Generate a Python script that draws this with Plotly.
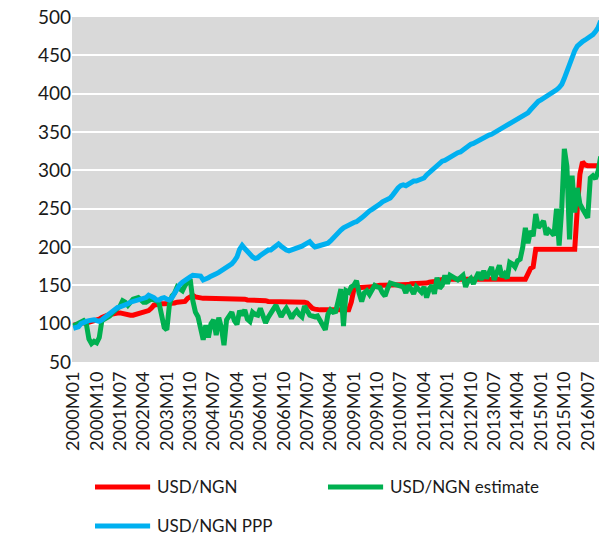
import plotly.graph_objects as go

# Monthly categories 2000M01 .. 2016M12
months = [f"{y}M{m:02d}" for y in range(2000, 2017) for m in range(1, 13)]

usd_ngn = [
    98, 99, 100, 100, 101, 101, 102, 102, 103, 104, 106, 108,            # 2000
    110, 111, 112, 113, 113, 114, 114, 113, 112, 111, 111, 111,          # 2001
    112, 113, 114, 115, 116, 117, 120, 124, 125, 126, 126, 126,          # 2002
    126, 127, 127, 127, 128, 128, 128, 129, 133, 136, 137, 135,          # 2003
    134, 134, 133, 133, 133, 133, 133, 133, 133, 133, 133, 133,          # 2004
    133, 133, 133, 133, 133, 132, 132, 131, 131, 130, 130, 130,          # 2005
    130, 130, 130, 129, 129, 129, 129, 129, 129, 129, 129, 129,          # 2006
    129, 129, 128, 128, 128, 128, 127, 123, 120, 119, 118, 118,          # 2007
    118, 118, 118, 118, 118, 117, 117, 117, 117, 117, 118, 128,          # 2008
    145, 147, 147, 147, 148, 148, 148, 148, 149, 150, 150, 150,          # 2009
    150, 150, 150, 150, 150, 150, 151, 151, 151, 151, 152, 152,          # 2010
    152, 153, 153, 153, 153, 154, 154, 155, 156, 157, 158, 158,          # 2011
    159, 158, 158, 158, 158, 158, 158, 158, 158, 158, 158, 158,          # 2012
    157, 157, 157, 157, 157, 157, 157, 157, 157, 157, 157, 157,          # 2013
    157, 157, 157, 157, 157, 157, 158, 165, 172, 174, 197, 197,          # 2014
    197, 197, 197, 197, 197, 197, 197, 197, 197, 197, 197, 197,          # 2015
    197, 197, 250, 295, 311, 307, 306, 306, 306, 306, 306, 306,          # 2016
]

usd_ngn_estimate = [
    97, 99, 101, 103, 104, 100, 80, 74, 77, 75, 82, 104,                 # 2000
    106, 108, 110, 114, 117, 120, 123, 130, 128, 124, 129, 132,          # 2001
    133, 134, 131, 128, 128, 130, 132, 131, 130, 127, 112, 95,           # 2002
    92, 125, 136, 140, 148, 146, 143, 150, 154, 158, 130, 115,           # 2003
    109, 95, 79, 98, 82, 100, 105, 85, 108, 95, 72, 105,                 # 2004
    110, 115, 104, 99, 117, 111, 118, 106, 103, 115, 112, 111,           # 2005
    120, 112, 101, 108, 115, 119, 124, 117, 109, 115, 120, 114,          # 2006
    107, 113, 117, 112, 109, 123, 116, 111, 110, 109, 110, 104,          # 2007
    100, 92, 112, 118, 115, 116, 130, 145, 97, 143, 141, 148,            # 2008
    150, 156, 140, 129, 140, 143, 138, 145, 150, 148, 147, 140,          # 2009
    136, 146, 153, 152, 151, 151, 150, 148, 140, 150, 145, 139,          # 2010
    148, 145, 141, 148, 134, 145, 150, 139, 160, 146, 150, 163,          # 2011
    152, 163, 161, 160, 157, 160, 163, 148, 156, 159, 152, 160,          # 2012
    167, 157, 169, 159, 165, 174, 157, 168, 176, 161, 165, 159,          # 2013
    180, 178, 174, 182, 184, 200, 225, 205, 221, 214, 243, 225,          # 2014
    230, 234, 216, 222, 219, 215, 250, 202, 250, 328, 305, 210,          # 2015
    293, 245, 277, 256, 250, 243, 238, 290, 293, 289, 299, 318,          # 2016
]

usd_ngn_ppp = [
    94, 95, 96, 100, 102, 103, 104, 105, 105, 104, 103, 105,             # 2000
    108, 110, 112, 117, 119, 121, 122, 123, 125, 126, 128, 129,          # 2001
    130, 131, 131, 132, 134, 137, 136, 134, 131, 131, 133, 134,          # 2002
    132, 131, 134, 140, 148, 151, 154, 157, 159, 161, 163, 163,          # 2003
    163, 162, 157, 158, 160, 162, 163, 165, 167, 169, 171, 173,          # 2004
    176, 178, 182, 187, 197, 202, 198, 194, 190, 187, 185, 186,          # 2005
    189, 192, 195, 196, 196, 199, 203, 204, 201, 198, 196, 195,          # 2006
    196, 197, 198, 199, 201, 203, 206, 207, 203, 200, 201, 202,          # 2007
    203, 204, 205, 208, 212, 216, 219, 222, 225, 227, 229, 231,          # 2008
    232, 233, 235, 238, 241, 245, 247, 249, 251, 254, 256, 259,          # 2009
    261, 263, 264, 268, 273, 277, 280, 281, 280, 282, 285, 286,          # 2010
    286, 287, 288, 290, 294, 297, 299, 302, 307, 310, 312, 313,          # 2011
    315, 318, 320, 322, 323, 324, 327, 330, 332, 334, 335, 337,          # 2012
    339, 341, 343, 344, 346, 347, 349, 351, 353, 355, 357, 358,          # 2013
    360, 362, 364, 366, 368, 370, 372, 375, 379, 383, 387, 390,          # 2014
    392, 394, 396, 398, 400, 402, 405, 408, 412, 420, 430, 440,          # 2015
    448, 456, 462, 466, 468, 470, 472, 475, 477, 481, 486, 495,          # 2016
]

tick_labels = months[::9]

series_names = ["USD/NGN", "USD/NGN estimate", "USD/NGN PPP"]
colors = ["#FF0000", "#00B050", "#00B0F0"]

FONT = "Lato"
fig = go.Figure()
for name, vals, col in zip(series_names, [usd_ngn, usd_ngn_estimate, usd_ngn_ppp], colors):
    fig.add_trace(go.Scatter(x=months, y=vals, mode="lines", name=name,
                             line=dict(color=col, width=5), showlegend=False,
                             hoverinfo="skip"))

fig.update_layout(
    width=599, height=531,
    margin=dict(l=64, r=5, t=9, b=177, autoexpand=False),
    plot_bgcolor="#D9D9D9", paper_bgcolor="white",
    font=dict(family=FONT, size=16, color="#1a1a1a"),
    xaxis=dict(type="category", tickmode="array", tickvals=tick_labels, ticktext=tick_labels,
               tickangle=-90, showgrid=False, zeroline=False, showline=False,
               range=[-0.5, len(months) - 0.5], tickfont=dict(size=18), ticks="",
               automargin=False, ticklabelstandoff=5),
    yaxis=dict(range=[50, 500], dtick=50, showgrid=True, gridcolor="white", gridwidth=2,
               zeroline=False, showline=False, tickfont=dict(size=19), ticks="",
               automargin=False, ticklabeloverflow="allow"),
)

# Manual legend (two rows) below the plot
legend_rows = [(-0.362, 0.0434, 0), (-0.362, 0.483, 1), (-0.475, 0.0434, 2)]
for yy, x0, i in legend_rows:
    fig.add_shape(type="line", xref="paper", yref="paper", x0=x0, x1=x0 + 0.104, y0=yy, y1=yy,
                  line=dict(color=colors[i], width=5))
    fig.add_annotation(xref="paper", yref="paper", x=x0 + 0.113, y=yy, text=series_names[i],
                       showarrow=False, xanchor="left", yanchor="middle",
                       font=dict(size=17, family=FONT, color="#1a1a1a"))

fig.write_html("out.html")
